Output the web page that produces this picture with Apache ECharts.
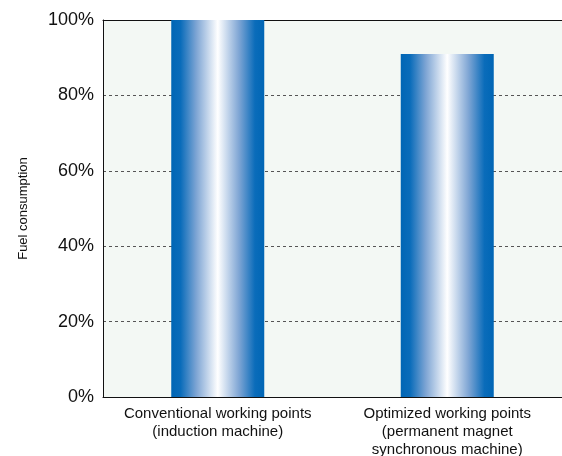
<!DOCTYPE html>
<html>
<head>
<meta charset="utf-8">
<script src="https://cdn.jsdelivr.net/npm/echarts@6/dist/echarts.min.js"></script>
<style>
  html, body { margin: 0; padding: 0; background: #ffffff; }
  #chart { width: 562px; height: 456px; }
</style>
</head>
<body>
<div id="chart"></div>
<script>
// Relative fuel consumption for two operating strategies
const categories = [
  'Conventional working points\n(induction machine)',
  'Optimized working points\n(permanent magnet\nsynchronous machine)'
];
const fuelConsumption = [100, 91];
const yTicks = [0, 20, 40, 60, 80, 100];

const FONT = '"Liberation Sans", Arial, sans-serif';

const barGradient = {
  type: 'linear', x: 0, y: 0, x2: 1, y2: 0,
  colorStops: [
    { offset: 0, color: '#0066b5' },
    { offset: 0.1, color: '#0a6cba' },
    { offset: 0.27, color: '#7ea5d4' },
    { offset: 0.5, color: '#ffffff' },
    { offset: 0.73, color: '#7ea5d4' },
    { offset: 0.9, color: '#0a6cba' },
    { offset: 1, color: '#0066b5' }
  ]
};

const chart = echarts.init(document.getElementById('chart'), null, { renderer: 'canvas' });
chart.setOption({
  animation: false,
  textStyle: { fontFamily: FONT },
  grid: {
    left: 103, right: 0, top: 20, bottom: 59,
    outerBoundsMode: 'none',
    containLabel: false,
    show: true, backgroundColor: '#f3f8f4', borderWidth: 0
  },
  xAxis: [{
    type: 'category',
    data: categories,
    axisLine: { show: true, lineStyle: { color: '#111', width: 1 } },
    axisTick: { show: false },
    axisLabel: {
      color: '#111', fontSize: 15, lineHeight: 18, margin: 8, interval: 0,
      fontFamily: FONT
    }
  }, {
    // frame line along the top of the plot
    type: 'category',
    position: 'top',
    data: categories,
    axisLine: { show: true, lineStyle: { color: '#111', width: 1 } },
    axisTick: { show: false },
    axisLabel: { show: false }
  }],
  yAxis: {
    type: 'value',
    min: yTicks[0], max: yTicks[yTicks.length - 1], interval: 20,
    name: 'Fuel consumption',
    nameLocation: 'middle',
    nameGap: 73,
    nameRotate: 90,
    nameTextStyle: { color: '#111', fontSize: 13, fontFamily: FONT },
    axisLine: { show: true, lineStyle: { color: '#111', width: 1 } },
    axisTick: { show: false },
    axisLabel: {
      color: '#111', fontSize: 18, margin: 9,
      formatter: v => v + '%',
      fontFamily: FONT
    },
    splitLine: {
      show: true,
      lineStyle: { color: '#555', type: [3, 3], width: 1 }
    }
  },
  series: [{
    type: 'bar',
    data: fuelConsumption,
    barWidth: 93,
    itemStyle: { color: barGradient }
  }]
});
</script>
</body>
</html>
